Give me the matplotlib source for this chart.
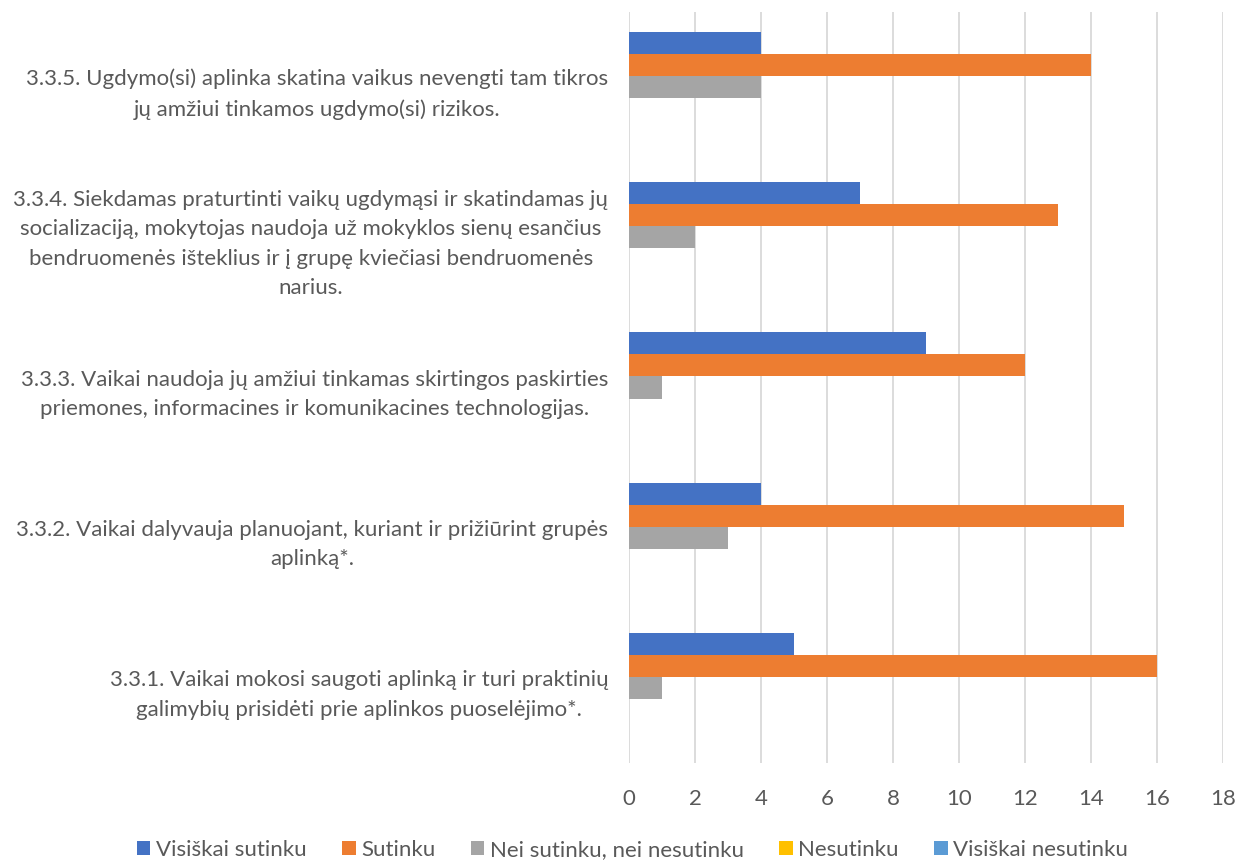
import numpy as np
import matplotlib.pyplot as plt

# ===========================
# DATOS
# ===========================
kategorijos = [
    "3.3.1. Vaikai mokosi saugoti aplinką ir turi praktinių\ngalimybių prisidėti prie aplinkos puoselėjimo*.",
    "3.3.2. Vaikai dalyvauja planuojant, kuriant ir prižiūrint grupės\naplinką*.",
    "3.3.3. Vaikai naudoja jų amžiui tinkamas skirtingos paskirties\npriemones, informacines ir komunikacines technologijas.",
    "3.3.4. Siekdamas praturtinti vaikų ugdymąsi ir skatindamas jų\nsocializaciją, mokytojas naudoja už mokyklos sienų esančius\nbendruomenės išteklius ir į grupę kviečiasi bendruomenės\nnarius.",
    "3.3.5. Ugdymo(si) aplinka skatina vaikus nevengti tam tikros\njų amžiui tinkamos ugdymo(si) rizikos.",
]
serijos = ["Visiškai sutinku", "Sutinku", "Nei sutinku, nei nesutinku",
           "Nesutinku", "Visiškai nesutinku"]
visiskai_sutinku = [5, 4, 9, 7, 4]
sutinku = [16, 15, 12, 13, 14]
nei_nei = [1, 3, 1, 2, 4]
nesutinku = [0, 0, 0, 0, 0]
visiskai_nesutinku = [0, 0, 0, 0, 0]

reiksmes = [visiskai_sutinku, sutinku, nei_nei, nesutinku, visiskai_nesutinku]
spalvos = ["#4472C4", "#ED7D31", "#A5A5A5", "#FFC000", "#5B9BD5"]

# ===========================
# GRAFIKAS
# ===========================
plt.rcParams['font.family'] = ['Lato', 'DejaVu Sans']
fs = 16

fig = plt.figure(figsize=(12.38, 8.61), dpi=100)
ax = fig.add_axes([629 / 1238, 1 - 763 / 861, (1223 - 629) / 1238, (763 - 12) / 861])

y = np.arange(len(kategorijos))
h = 22 / 150
for i, (vals, col, nm) in enumerate(zip(reiksmes, spalvos, serijos)):
    ax.barh(y + (2 - i) * h, vals, height=h, color=col, label=nm)

ax.set_xlim(0, 18)
ax.set_ylim(-0.5, 4.5)
ax.set_xticks(range(0, 19, 2))
ax.set_yticks(y)
ax.set_yticklabels(kategorijos, fontsize=fs, color="#595959", ha="right",
                   multialignment="center", linespacing=1.6)
ax.tick_params(axis="y", length=0, pad=15)
ax.tick_params(axis="x", length=0, pad=19, labelsize=fs, labelcolor="#595959")
ax.grid(axis="x", color="#D9D9D9", linewidth=1.3)
ax.set_axisbelow(True)
for s in ax.spines.values():
    s.set_visible(False)

fig.legend(loc="lower center", bbox_to_anchor=(0.511, -0.022), ncol=5, frameon=False,
           fontsize=fs, labelcolor="#595959", handlelength=0.6, handleheight=0.6,
           handletextpad=0.25, columnspacing=1.6)

fig.savefig("out.png", dpi=100)
